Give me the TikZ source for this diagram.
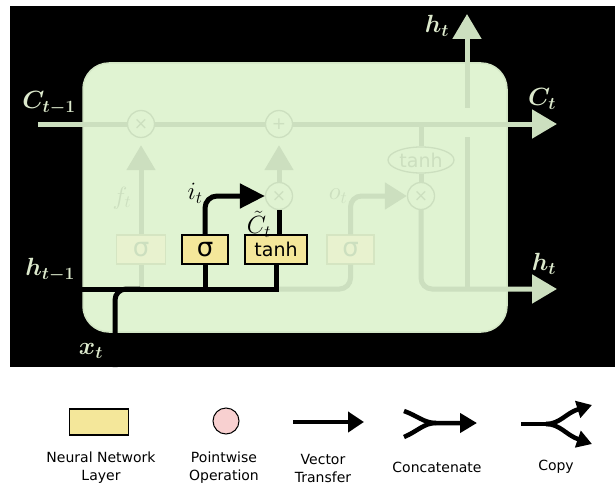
\documentclass[tikz,border=0pt]{standalone}
\usepackage{fontspec}
\newfontfamily\dejavu{DejaVu Sans}
\usetikzlibrary{arrows.meta,shapes.geometric}
\definecolor{cellfill}{HTML}{E0F3D2}
\definecolor{cellrim}{HTML}{D3E6C5}
\definecolor{faded}{HTML}{CCDFBF}
\definecolor{fadeboxfill}{HTML}{E8F2CF}
\definecolor{fadeboxrim}{HTML}{D5E5C2}
\definecolor{layerfill}{HTML}{F4E79A}
\definecolor{opfill}{HTML}{F8D0D0}
\definecolor{outlabel}{HTML}{DCE9CC}
\begin{document}
\begin{tikzpicture}[x=1pt,y=-1pt,
  flow/.style={draw=faded,line width=5pt},
  live/.style={draw=black,line width=5pt},
  bigtip/.style={-{Triangle[length=25pt,width=28pt]}},
  pw/.style={circle,draw=faded,line width=1.3pt,fill=cellfill,minimum size=27pt,
    inner sep=0pt,text=faded,font=\dejavu\fontsize{17}{17}\selectfont},
  gatebox/.style={rectangle,draw=black,line width=1.3pt,fill=layerfill,minimum height=29pt,
    inner sep=0pt,font=\dejavu\fontsize{19}{19}\selectfont},
  fadegate/.style={gatebox,draw=fadeboxrim,fill=fadeboxfill,text=faded},
  sig/.style={font=\dejavu\fontsize{26}{26}\selectfont},
  outer/.style={inner sep=0pt,text=outlabel,font=\fontsize{24}{24}\selectfont\boldmath},
  inner/.style={inner sep=0pt,font=\fontsize{23}{23}\selectfont},
  legtext/.style={align=center,font=\dejavu\fontsize{14}{18}\selectfont},
  legline/.style={draw=black,line width=4.5pt}]
\useasboundingbox (0,0) rectangle (615,484);
\fill[white] (0,0) rectangle (615,484);
\fill[black] (10,6) rectangle (615,367);

% the LSTM cell
\draw[cellrim,fill=cellfill,line width=1.5pt,rounded corners=26pt] (83,63) rectangle (507,332);

% pointwise operations
\node[pw] (fx)   at (141,124) {×};
\node[pw] (plus) at (279,124) {+};
\node[pw] (ix)   at (279,196) {×};
\node[pw] (ox)   at (421,196) {×};
\node[ellipse,draw=faded,line width=1.3pt,fill=cellfill,minimum width=66pt,minimum height=26pt,
  inner sep=0pt,text=faded,font=\dejavu\fontsize{19}{19}\selectfont] (otanh) at (421,160) {tanh};

% neural network layers
\node[fadegate,sig,minimum width=49pt] (fsig)  at (141,249.5) {σ};
\node[gatebox,sig,minimum width=46pt]  (isig)  at (205,249.5) {σ};
\node[gatebox,minimum width=62pt]      (ctanh) at (276,249.5) {tanh};
\node[fadegate,sig,minimum width=47pt] (osig)  at (350.5,249.5) {σ};

% free ends and junctions
\coordinate (cin)  at (38,124);
\coordinate (cout) at (557,124);
\coordinate (hin)  at (38,289);
\coordinate (xin)  at (115,367);
\coordinate (hout) at (557,289);
\coordinate (htop) at (467,14);
\coordinate (hlow) at (467,289);
\coordinate (hgapa) at (467,137);
\coordinate (hgapb) at (467,108);
\coordinate (cjun) at (421,124);
\coordinate (fjun) at (141,289);
\coordinate (ojun) at (279,289);
\coordinate (ijun) at (205,289);
\coordinate (xjoin) at (140,289);

% faded paths of the cell
\draw[flow,bigtip] (cin) -- (fx) -- (plus) -- (cout);
\draw[flow] (fjun) -- (fsig);
\draw[flow,bigtip,shorten >=7pt] (fsig) -- (fx);
\draw[flow,bigtip,shorten >=7pt] (ix) -- (plus);
\draw[flow,rounded corners=11pt] (ojun) -| (osig.south);
\draw[flow,-{Triangle[length=22pt,width=26pt]},rounded corners=11pt] (osig.north) |- (ox.west);
\draw[flow] (cjun) -- (otanh);
\draw[flow] (otanh) -- (ox);
\draw[flow,bigtip,rounded corners=11pt] (ox.south) |- (hout);
\draw[flow] (hlow) -- (hgapa);
\draw[flow,bigtip] (hgapb) -- (htop);

% the input gate
\draw[live] (hin) -| (ctanh.south);
\draw[live,rounded corners=11pt] (xin) |- (xjoin);
\draw[live] (isig.south) -- (ijun);
\draw[live,-{Triangle[length=25pt,width=24pt]},rounded corners=12pt] (isig.north) |- (ix.west);
\draw[live] (ix.south |- ctanh.north) -- (ix.south);

% labels
\node[outer] (lcin) at (49,103) {$C_{t-1}$};
\node[outer] (lhin) at (50,270) {$h_{t-1}$};
\node[outer] (lxin) at (91,351) {$x_t$};
\node[outer] (lhtop) at (437,26) {$h_t$};
\node[outer] (lcout) at (542,99) {$C_t$};
\node[outer] (lhout) at (544,264) {$h_t$};
\node[inner,text=faded] (lf) at (122,198) {$f_t$};
\node[inner,text=faded] (lo) at (338,196) {$o_t$};
\node[inner] (li) at (195,193) {$i_t$};
\node[inner] (lc) at (259,224) {$\tilde{C}_t$};

% legend
\node[gatebox,minimum width=59pt,minimum height=26pt,line width=1.5pt] (lglayer) at (99,422) {};
\node[circle,draw=black,line width=1pt,fill=opfill,minimum size=26pt,inner sep=0pt] (lgop) at (226,421) {};
\coordinate (va) at (293,422);
\coordinate (vb) at (364,422);
\draw[legline,-{Triangle[length=16pt,width=20pt]}] (va) -- (vb);
\coordinate (ca1) at (404,411);
\coordinate (ca2) at (404,437);
\coordinate (cj) at (436,423);
\coordinate (cb) at (477,423);
\draw[legline,-{Triangle[length=17pt,width=19pt]}] (ca1) .. controls (418,416) and (424,423) .. (cj) -- (cb);
\draw[legline] (ca2) .. controls (418,431) and (424,423) .. (cj);
\coordinate (pa) at (521,424);
\coordinate (pj) at (546,424);
\coordinate (pu) at (592,405);
\coordinate (pd) at (592,444);
\draw[legline] (pa) -- (pj);
\draw[legline,-{Triangle[length=15pt,width=17pt]}] (pj) .. controls (560,424) and (566,413) .. (pu);
\draw[legline,-{Triangle[length=15pt,width=17pt]}] (pj) .. controls (560,424) and (566,435) .. (pd);
\node[legtext] (tlayer) at (101,468) {Neural Network\\Layer};
\node[legtext] (top) at (224,468) {Pointwise\\Operation};
\node[legtext] (tvec) at (323,468) {Vector\\Transfer};
\node[legtext] (tcat) at (437,467) {Concatenate};
\node[legtext] (tcopy) at (556,467) {Copy};
\end{tikzpicture}
\end{document}
